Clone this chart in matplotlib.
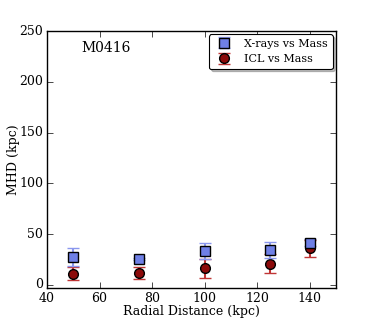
import numpy as np
import matplotlib
matplotlib.use("Agg")
import matplotlib.pyplot as plt

# data
radius = [50, 75, 100, 125, 140]
xray_mhd = [27.5, 25.5, 33.5, 34.5, 41.5]
xray_err = [8.5, 1.0, 7.5, 7.5, 3.5]
icl_mhd = [11.0, 11.5, 16.5, 21.0, 36.0]
icl_err = [6.5, 6.0, 9.5, 9.0, 8.0]

plt.style.use("classic")
plt.rcParams["font.family"] = ["DejaVu Serif"]
plt.rcParams["font.size"] = 9

fig = plt.figure(figsize=(3.74, 3.2), dpi=100)
ax = fig.add_axes([0.126, 0.1, 0.772, 0.803])

ax.errorbar(radius, xray_mhd, yerr=xray_err, fmt="s", color="#6f80e6",
            ecolor="#8a97ee", mec="black", mew=1.0, ms=7, capsize=4,
            elinewidth=1.5, capthick=1.5, label="X-rays vs Mass", zorder=3)
ax.errorbar(radius, icl_mhd, yerr=icl_err, fmt="o", color="#8b0a0a",
            ecolor="#c03535", mec="black", mew=1.0, ms=7, capsize=4,
            elinewidth=1.5, capthick=1.5, label="ICL vs Mass", zorder=2)

ax.set_xlim(40, 150)
ax.set_ylim(-3, 250)
ax.set_xticks([40, 60, 80, 100, 120, 140])
ax.set_yticks([0, 50, 100, 150, 200, 250])
ax.set_xlabel("Radial Distance (kpc)", fontsize=9, labelpad=0)
ax.set_ylabel("MHD (kpc)", fontsize=9, labelpad=-1)
ax.tick_params(labelsize=9, pad=3)

ax.text(0.12, 0.935, "M0416", transform=ax.transAxes, fontsize=10,
        ha="left", va="center")

leg = ax.legend(loc="upper right", numpoints=1, fontsize=8, fancybox=True,
                shadow={"color": "0.55", "alpha": 0.6},
                borderaxespad=0.3, handletextpad=0.8)
leg.get_frame().set_linewidth(0.8)

fig.savefig("out.png", dpi=100)
